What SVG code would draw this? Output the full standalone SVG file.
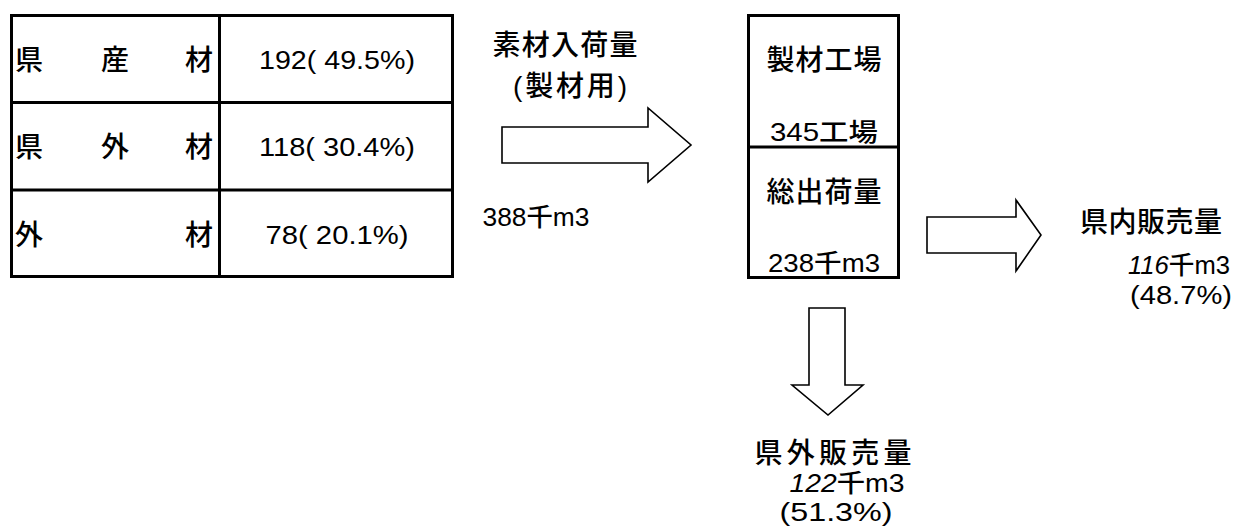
<svg xmlns="http://www.w3.org/2000/svg" width="1239" height="531" viewBox="0 0 1239 531">
<style>
text{font-family:"Liberation Sans","Noto Sans CJK JP",sans-serif;fill:#000;dominant-baseline:central;font-weight:500}
.t{font-size:28px}
.n{font-size:25px;text-anchor:middle}
.h{font-size:28px;text-anchor:middle}
.frame{fill:#fff;stroke:#000;stroke-width:3}
.arrow{fill:#fff;stroke:#000;stroke-width:1.6;stroke-linejoin:miter}
.it{font-style:italic}
</style>
<rect width="1239" height="531" fill="#fff"/>
<g id="table">
<rect class="frame" x="11.5" y="15.5" width="441" height="261"/>
<line x1="219.5" y1="15.5" x2="219.5" y2="276.5" stroke="#000" stroke-width="3"/>
<line x1="11.5" y1="102.5" x2="452.5" y2="102.5" stroke="#000" stroke-width="3"/>
<line x1="11.5" y1="190" x2="452.5" y2="190" stroke="#000" stroke-width="3"/>
<text class="t" x="15" y="60">県</text><text class="t" x="101" y="60">産</text><text class="t" x="185" y="60">材</text>
<text class="t" x="15" y="147">県</text><text class="t" x="101" y="147">外</text><text class="t" x="185" y="147">材</text>
<text class="t" x="15" y="235">外</text><text class="t" x="185" y="235">材</text>
<text class="n" x="337" y="60" textLength="156" lengthAdjust="spacingAndGlyphs">192( 49.5%)</text>
<text class="n" x="337" y="147" textLength="156" lengthAdjust="spacingAndGlyphs">118( 30.4%)</text>
<text class="n" x="337" y="235" textLength="143" lengthAdjust="spacingAndGlyphs">78( 20.1%)</text>
</g>
<g id="input-label">
<text class="h" x="565" y="45" textLength="145" lengthAdjust="spacing">素材入荷量</text>
<text class="h" x="570" y="86" textLength="114" lengthAdjust="spacing">(製材用)</text>
<text class="n" x="536" y="217" textLength="107" lengthAdjust="spacingAndGlyphs">388千m3</text>
</g>
<g id="factory">
<rect class="frame" x="748.5" y="15.5" width="150" height="262"/>
<line x1="748.5" y1="147" x2="898.5" y2="147" stroke="#000" stroke-width="3"/>
<text class="h" x="824" y="60" textLength="115" lengthAdjust="spacing">製材工場</text>
<text class="n" x="824" y="132" textLength="108" lengthAdjust="spacingAndGlyphs">345工場</text>
<text class="h" x="824" y="192" textLength="115" lengthAdjust="spacing">総出荷量</text>
<text class="n" x="824" y="263" textLength="112" lengthAdjust="spacingAndGlyphs">238千m3</text>
</g>
<g id="in-pref">
<text class="h" x="1151" y="222" textLength="142" lengthAdjust="spacing">県内販売量</text>
<text class="n" x="1179" y="265" textLength="102" lengthAdjust="spacingAndGlyphs"><tspan class="it">116</tspan>千m3</text>
<text class="n" x="1181" y="295" textLength="102" lengthAdjust="spacingAndGlyphs">(48.7%)</text>
</g>
<g id="out-pref">
<text class="h" x="833" y="453" textLength="157" lengthAdjust="spacing">県外販売量</text>
<text class="n" x="847" y="483" textLength="115" lengthAdjust="spacingAndGlyphs"><tspan class="it">122</tspan>千m3</text>
<text class="n" x="836" y="512" textLength="113" lengthAdjust="spacingAndGlyphs">(51.3%)</text>
</g>
<g id="connectors">
<polygon class="arrow" points="502,127 648,127 648,108 691,145 648,182 648,163 502,163"/>
<polygon class="arrow" points="927,217 1016,217 1016,200 1041,235 1016,271 1016,253 927,253"/>
<polygon class="arrow" points="809,308 845,308 845,385 863,385 828,415 792,385 809,385"/>
</g>
</svg>
